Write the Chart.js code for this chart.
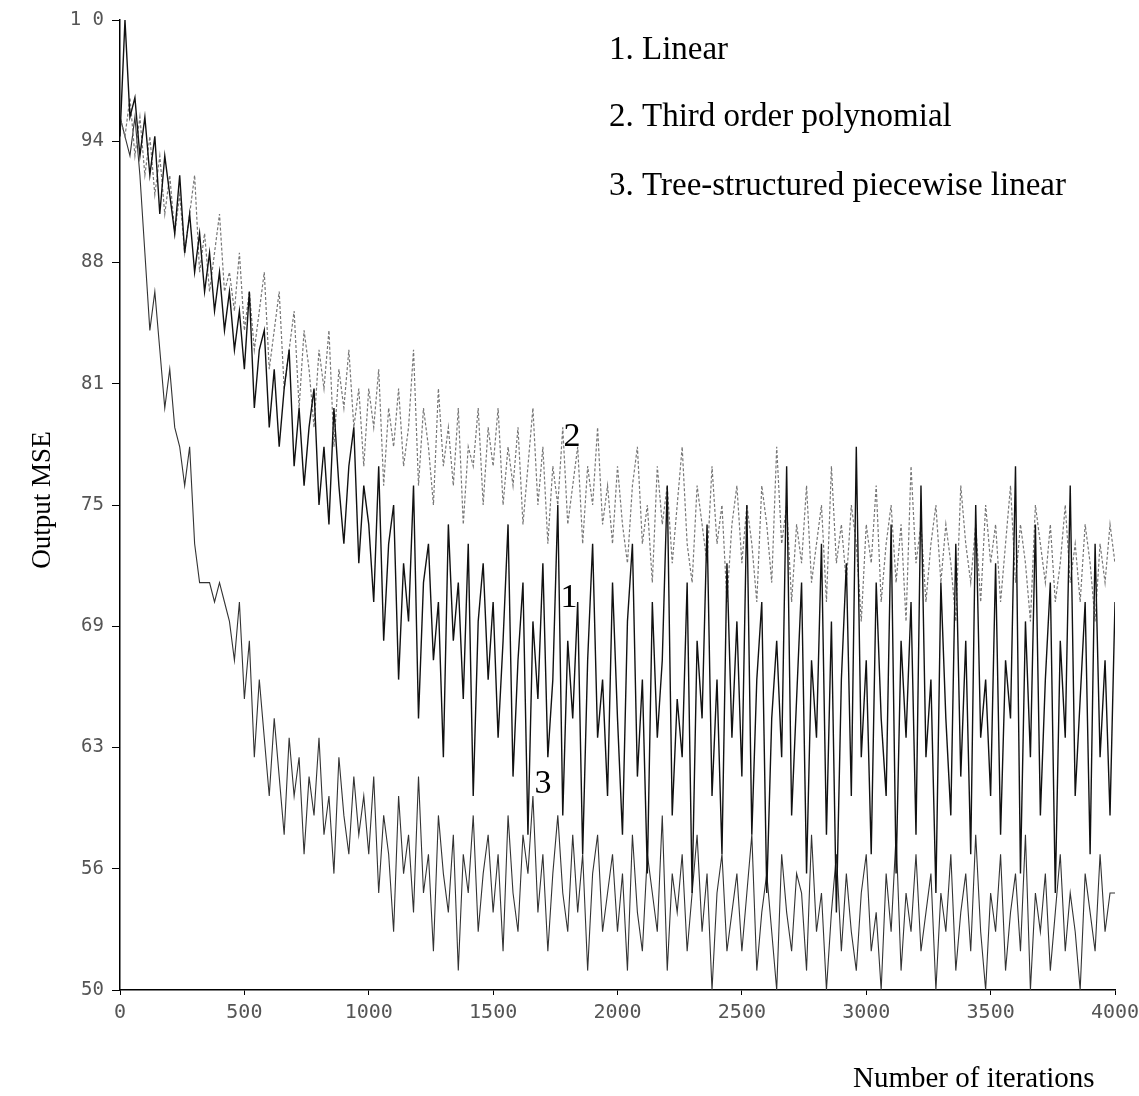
<!DOCTYPE html>
<html>
<head>
<meta charset="utf-8">
<title>Output MSE vs iterations</title>
<script src="https://cdn.jsdelivr.net/npm/chart.js@4"></script>
<style>
    html, body { margin: 0; padding: 0; background: #fff; }
    #wrap { width: 1139px; height: 1096px; position: relative; }
</style>
</head>
<body>
<div id="wrap"><canvas id="mseChart" width="1139" height="1096"></canvas></div>
<script>
// Iterations axis: one sample every 20 iterations, 0..4000
const iterStep = 20;
const xTicks = [0, 500, 1000, 1500, 2000, 2500, 3000, 3500, 4000];
const xTickLabels = ['0', '500', '1000', '1500', '2000', '2500', '3000', '3500', '4000'];
const yTicks = [50, 56.25, 62.5, 68.75, 75, 81.25, 87.5, 93.75, 100];
const yTickLabels = ['50', '56', '63', '69', '75', '81', '88', '94', '1 0'];

const legendLines = ['1. Linear', '2. Third order polynomial', '3. Tree-structured piecewise linear'];
const curveTags = ['1', '2', '3'];
// where the numbers 1, 2, 3 sit, in (iterations, MSE)
const curveTagX = [1805, 1817, 1700];
const curveTagY = [70.2, 78.5, 60.6];

// 1. Linear
const linearMSE = [
    94, 100, 95, 96, 93, 95, 92, 94, 90, 93, 91, 89, 92, 88, 90, 87, 89, 86, 88, 85, 87, 84, 86, 83, 85,
    82, 86, 80, 83, 84, 79, 82, 78, 81, 83, 77, 80, 76, 79, 81, 75, 78, 74, 80, 76, 73, 77, 79, 72, 76,
    74, 70, 77, 68, 73, 75, 66, 72, 69, 76, 64, 71, 73, 67, 70, 62, 74, 68, 71, 65, 73, 60, 69, 72, 66,
    70, 63, 68, 74, 61, 67, 71, 58, 69, 65, 72, 62, 66, 75, 59, 68, 64, 70, 57, 67, 73, 63, 66, 60, 71,
    64, 58, 69, 73, 61, 66, 56, 70, 63, 67, 76, 59, 65, 62, 71, 55, 68, 64, 74, 60, 66, 57, 72, 63, 69,
    61, 75, 58, 66, 70, 55, 64, 68, 62, 77, 59, 65, 71, 56, 67, 63, 73, 58, 69, 54, 66, 72, 60, 78, 62,
    67, 57, 71, 64, 60, 74, 56, 68, 63, 70, 58, 76, 62, 66, 55, 71, 64, 59, 73, 61, 68, 57, 75, 63, 66,
    60, 72, 58, 67, 64, 77, 56, 69, 62, 74, 59, 66, 71, 55, 68, 63, 76, 60, 65, 70, 57, 73, 62, 67, 59,
    70
];

// 2. Third order polynomial
const cubicMSE = [
    95, 94, 96, 93, 95, 92, 94, 91, 93, 90, 92, 89, 91, 88, 90, 92, 87, 89, 86, 88, 90, 86, 87, 85, 88,
    84, 86, 83, 85, 87, 82, 84, 86, 81, 83, 85, 80, 84, 82, 79, 83, 81, 84, 78, 82, 80, 83, 79, 81, 77,
    81, 79, 82, 76, 80, 78, 81, 77, 79, 83, 76, 80, 78, 75, 81, 77, 79, 76, 80, 74, 78, 77, 80, 75, 79,
    77, 80, 75, 78, 76, 79, 74, 77, 80, 75, 78, 73, 77, 75, 79, 74, 76, 78, 73, 77, 75, 79, 74, 76, 73,
    77, 74, 72, 76, 78, 73, 75, 71, 77, 74, 76, 72, 75, 78, 73, 71, 76, 74, 72, 77, 73, 75, 70, 74, 76,
    72, 75, 73, 70, 76, 74, 71, 78, 73, 75, 70, 74, 72, 76, 71, 73, 75, 70, 77, 72, 74, 71, 75, 73, 69,
    74, 72, 76, 70, 73, 75, 71, 74, 69, 77, 72, 74, 70, 73, 75, 71, 74, 72, 69, 76, 73, 71, 74, 70, 75,
    72, 74, 70, 73, 76, 71, 74, 72, 69, 75, 73, 71, 74, 70, 72, 75, 71, 73, 70, 74, 72, 69, 73, 71, 74,
    72
];

// 3. Tree-structured piecewise linear
const treeMSE = [
    95, 94, 93, 95, 92, 88, 84, 86, 83, 80, 82, 79, 78, 76, 78, 73, 71, 71, 71, 70, 71, 70, 69, 67, 70,
    65, 68, 62, 66, 63, 60, 64, 61, 58, 63, 60, 62, 57, 61, 59, 63, 58, 60, 56, 62, 59, 57, 61, 58, 60,
    57, 61, 55, 59, 57, 53, 60, 56, 58, 54, 61, 55, 57, 52, 59, 56, 54, 58, 51, 57, 55, 59, 53, 56, 58,
    54, 57, 52, 59, 55, 53, 58, 56, 60, 54, 57, 52, 56, 59, 55, 53, 58, 54, 57, 51, 56, 58, 53, 55, 57,
    53, 56, 51, 58, 54, 52, 57, 55, 53, 59, 51, 56, 54, 57, 52, 55, 58, 53, 56, 50, 55, 57, 52, 54, 56,
    52, 55, 58, 51, 54, 56, 53, 50, 57, 54, 52, 56, 55, 51, 58, 53, 55, 50, 54, 57, 52, 56, 53, 51, 55,
    57, 52, 54, 50, 56, 53, 58, 51, 55, 53, 57, 52, 54, 56, 50, 55, 53, 57, 51, 54, 56, 52, 58, 53, 50,
    55, 53, 57, 51, 54, 56, 52, 58, 50, 55, 53, 56, 51, 54, 57, 52, 55, 53, 50, 56, 54, 52, 57, 53, 55,
    55
];

// Turn a value list into {x, y} points
function toPoints(values) {
    return values.map((v, i) => ({ x: i * iterStep, y: v }));
}

// Texts drawn on top of the plot: legend block, curve numbers, axis titles
const textPlugin = {
    id: 'textPlugin',
    afterDraw(chart) {
        const ctx = chart.ctx;
        const xs = chart.scales.x;
        const ys = chart.scales.y;
        ctx.save();
        ctx.fillStyle = '#000';

        ctx.font = '33px "Liberation Serif", serif';
        ctx.textAlign = 'left';
        ctx.textBaseline = 'alphabetic';
        const legendBase = [59, 126, 195];
        legendLines.forEach((t, i) => ctx.fillText(t, 609, legendBase[i]));

        ctx.font = '34px "Liberation Serif", serif';
        ctx.textAlign = 'center';
        ctx.textBaseline = 'middle';
        curveTags.forEach((t, i) => {
            ctx.fillText(t, xs.getPixelForValue(curveTagX[i]), ys.getPixelForValue(curveTagY[i]));
        });

        ctx.font = '29px "Liberation Serif", serif';
        ctx.textAlign = 'left';
        ctx.textBaseline = 'alphabetic';
        ctx.fillText('Number of iterations', 853, 1087);

        ctx.font = '27px "Liberation Serif", serif';
        ctx.translate(50, 500);
        ctx.rotate(-Math.PI / 2);
        ctx.textAlign = 'center';
        ctx.fillText('Output MSE', 0, 0);
        ctx.restore();
    }
};

const config = {
    type: 'line',
    data: {
        datasets: [
            {
                label: legendLines[0],
                data: toPoints(linearMSE),
                borderColor: '#111',
                borderWidth: 1.4,
                pointRadius: 0,
                tension: 0
            },
            {
                label: legendLines[1],
                data: toPoints(cubicMSE),
                borderColor: '#777',
                borderWidth: 1.2,
                borderDash: [3, 2],
                pointRadius: 0,
                tension: 0
            },
            {
                label: legendLines[2],
                data: toPoints(treeMSE),
                borderColor: '#333',
                borderWidth: 1.1,
                pointRadius: 0,
                tension: 0
            }
        ]
    },
    options: {
        responsive: false,
        animation: false,
        layout: { padding: { top: 20, right: 24, left: 0, bottom: 0 } },
        plugins: {
            legend: { display: false },
            tooltip: { enabled: false }
        },
        scales: {
            x: {
                type: 'linear',
                min: 0,
                max: 4000,
                afterBuildTicks: (axis) => { axis.ticks = xTicks.map(v => ({ value: v })); },
                afterFit: (axis) => {
                    axis.height = 106;
                    // let the last label run past the axis end, like the original
                    axis.paddingLeft = 0;
                    axis.paddingRight = 0;
                },
                ticks: {
                    callback: (v) => xTickLabels[xTicks.indexOf(v)],
                    color: '#555',
                    font: { family: '"DejaVu Sans Mono", monospace', size: 20 },
                    maxRotation: 0,
                    padding: 6
                },
                grid: { drawOnChartArea: false, drawTicks: true, tickLength: 5, color: '#000' },
                border: { display: true, color: '#000', width: 1.5 }
            },
            y: {
                type: 'linear',
                min: 50,
                max: 100,
                afterBuildTicks: (axis) => { axis.ticks = yTicks.map(v => ({ value: v })); },
                afterFit: (axis) => {
                    axis.width = 120;
                    axis.paddingTop = 0;
                    axis.paddingBottom = 0;
                },
                ticks: {
                    callback: (v) => yTickLabels[yTicks.indexOf(v)],
                    color: '#555',
                    font: { family: '"DejaVu Sans Mono", monospace', size: 19 },
                    padding: 8
                },
                grid: { drawOnChartArea: false, drawTicks: true, tickLength: 8, color: '#000' },
                border: { display: true, color: '#000', width: 1.5 }
            }
        }
    },
    plugins: [textPlugin]
};

const ctx = document.getElementById('mseChart').getContext('2d');
const mseChart = new Chart(ctx, config);
</script>
</body>
</html>
